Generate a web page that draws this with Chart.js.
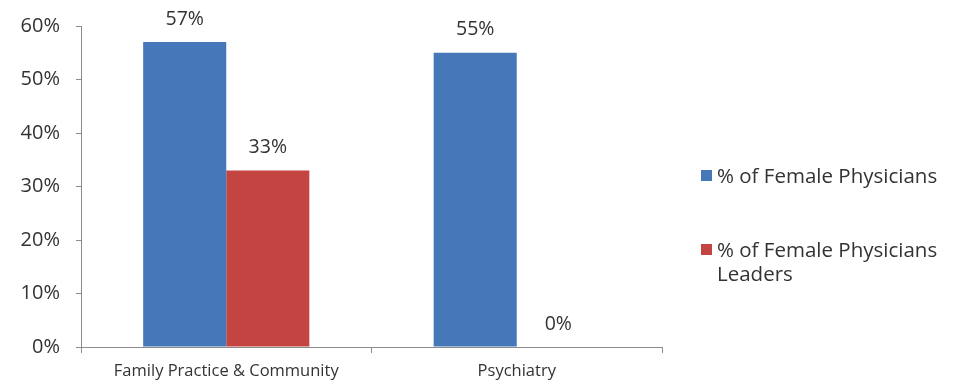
<!DOCTYPE html>
<html>
<head>
<meta charset="utf-8">
<script src="https://cdn.jsdelivr.net/npm/chart.js@4/dist/chart.umd.min.js"></script>
<style>
    html, body { margin: 0; padding: 0; background: #fff; }
    #wrap { position: relative; width: 953px; height: 385px; }
    #legend { position: absolute; left: 701px; top: 163px; font-family: 'Open Sans', sans-serif; font-size: 20.5px; color: #333; }
    .legend-item { display: flex; align-items: flex-start; line-height: 24px; }
    .legend-item + .legend-item { margin-top: 50px; }
    .legend-box { width: 11px; height: 11px; margin-top: 7px; margin-right: 5px; flex: none; }
</style>
</head>
<body>
<div id="wrap">
    <canvas id="chart" width="953" height="385"></canvas>
    <div id="legend"></div>
</div>
<script>
const categories = ['Family Practice & Community', 'Psychiatry'];
const femalePhysicians = [57, 55];
const femaleLeaders = [33, 0];
const yTicks = [0, 10, 20, 30, 40, 50, 60];

const SERIES = [
    { label: '% of Female Physicians', lines: ['% of Female Physicians'], data: femalePhysicians, color: '#4677B8' },
    { label: '% of Female Physicians Leaders', lines: ['% of Female Physicians', 'Leaders'], data: femaleLeaders, color: '#C44441' }
];

const FONT = "'Open Sans', sans-serif";
const AXIS_COLOR = '#8c8c8c';
const TEXT_COLOR = '#333333';

// value labels above each bar
const barLabels = {
    id: 'barLabels',
    afterDatasetsDraw(chart) {
        const ctx = chart.ctx;
        ctx.save();
        ctx.font = '19.5px ' + FONT;
        ctx.fillStyle = TEXT_COLOR;
        ctx.textAlign = 'center';
        ctx.textBaseline = 'middle';
        chart.data.datasets.forEach((ds, i) => {
            chart.getDatasetMeta(i).data.forEach((bar, j) => {
                ctx.fillText(ds.data[j] + '%', bar.x, bar.y - 23);
            });
        });
        ctx.restore();
    }
};

function buildLegend() {
    const container = document.getElementById('legend');
    SERIES.forEach(s => {
        const item = document.createElement('div');
        item.className = 'legend-item';
        item.innerHTML = `<span class="legend-box" style="background:${s.color}"></span><span>${s.lines.join('<br>')}</span>`;
        container.appendChild(item);
    });
}

new Chart(document.getElementById('chart').getContext('2d'), {
    type: 'bar',
    data: {
        labels: categories,
        datasets: SERIES.map(s => ({
            label: s.label,
            data: s.data,
            backgroundColor: s.color,
            borderWidth: 0,
            categoryPercentage: 0.572,
            barPercentage: 1
        }))
    },
    options: {
        responsive: false,
        animation: false,
        layout: { padding: { top: 26, right: 291, bottom: 0, left: 0 } },
        plugins: { legend: { display: false }, tooltip: { enabled: false } },
        scales: {
            x: {
                offset: true,
                grid: { offset: true, drawOnChartArea: false, color: AXIS_COLOR, tickLength: 6 },
                border: { color: AXIS_COLOR },
                ticks: { color: TEXT_COLOR, font: { family: FONT, size: 16.5 }, padding: 8, maxRotation: 0 },
                afterFit: s => { s.height = 38; }
            },
            y: {
                min: 0,
                max: 60,
                afterBuildTicks: s => { s.ticks = yTicks.map(v => ({ value: v })); },
                grid: { drawOnChartArea: false, color: AXIS_COLOR, tickLength: 5 },
                border: { color: AXIS_COLOR },
                ticks: { color: TEXT_COLOR, font: { family: FONT, size: 20 }, padding: 16, callback: v => v + '%' },
                afterFit: s => { s.width = 81; s.paddingTop = 0; s.paddingBottom = 0; }
            }
        }
    },
    plugins: [barLabels]
});

buildLegend();
</script>
</body>
</html>
